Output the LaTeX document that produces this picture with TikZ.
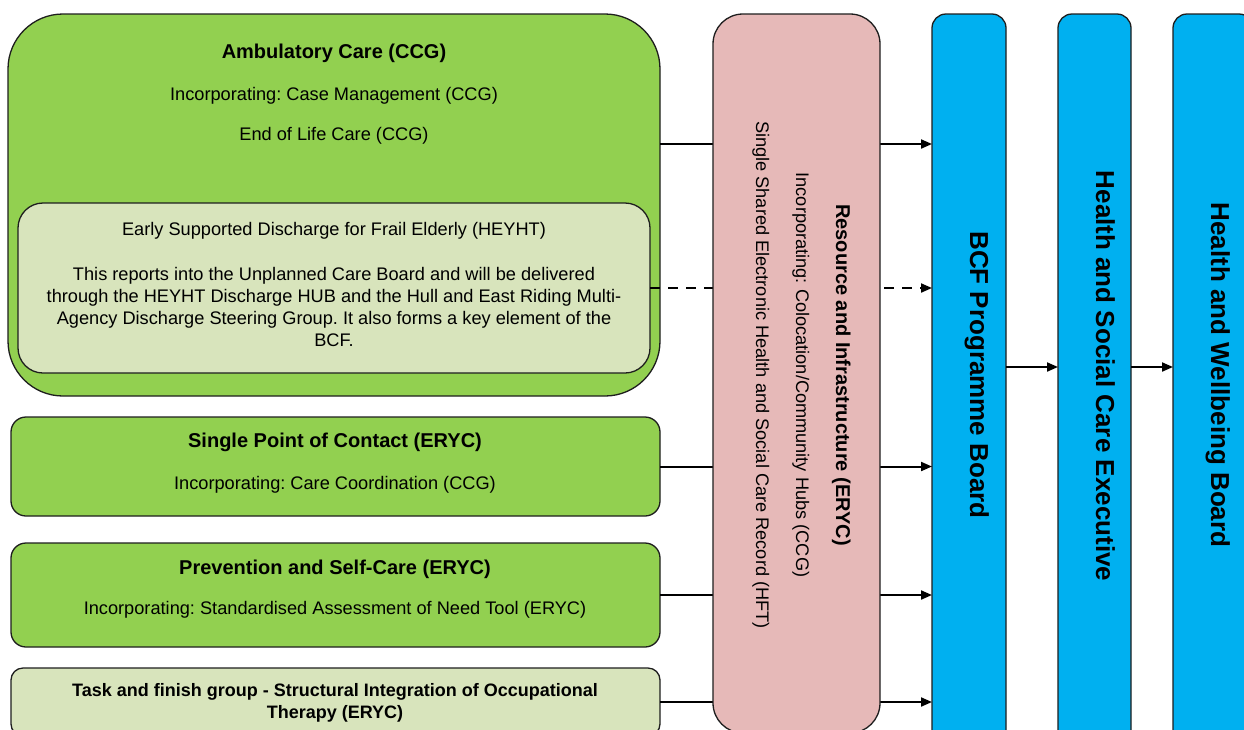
\documentclass[tikz,border=0pt]{standalone}
\usepackage{fontspec}
\setmainfont{Liberation Sans}
\frenchspacing
\usetikzlibrary{arrows.meta}
\definecolor{cgreen}{HTML}{92D050}
\definecolor{clight}{HTML}{D8E4BC}
\definecolor{cpink}{HTML}{E6B9B8}
\definecolor{cblue}{HTML}{00B0F0}
\definecolor{edge}{HTML}{1E1E1E}
\begin{document}
\begin{tikzpicture}[x=1pt,y=-1pt,
  box/.style={draw=edge, line width=1.3pt, inner sep=0pt, outer sep=0pt, anchor=north west},
  greenbox/.style={box, fill=cgreen},
  lightbox/.style={box, fill=clight},
  pinkbox/.style={box, fill=cpink},
  bluebox/.style={box, fill=cblue, rounded corners=14pt},
  body/.style={inner sep=0pt, anchor=base, font=\fontsize{18.2}{22}\selectfont},
  head/.style={inner sep=0pt, anchor=base, font=\fontsize{20}{24}\selectfont\bfseries},
  vbody/.style={body, rotate=-90},
  vhead/.style={head, rotate=-90},
  bighead/.style={inner sep=0pt, anchor=base, rotate=-90, font=\fontsize{26}{30}\selectfont\bfseries},
  conn/.style={draw=black, line width=2pt},
  arr/.style={conn, -{Triangle[length=11pt,width=9pt]}},
  dasharr/.style={arr, dash pattern=on 10pt off 8pt}
]
\useasboundingbox (0,0) rectangle (1244,729);
\clip (0,0) rectangle (1244,729);
\fill[white] (0,0) rectangle (1244,729);

% work-stream boxes on the left
\node[greenbox, rounded corners=55pt, minimum width=652pt, minimum height=382pt] (amb) at (8,14) {};
\node[lightbox, rounded corners=25pt, minimum width=632pt, minimum height=170pt] (esd) at (18,203) {};
\node[greenbox, rounded corners=15pt, minimum width=649pt, minimum height=99pt] (spc) at (11,417) {};
\node[greenbox, rounded corners=15pt, minimum width=649pt, minimum height=104pt] (prev) at (11,543) {};
\node[lightbox, rounded corners=12pt, minimum width=649pt, minimum height=68pt] (task) at (11,668) {};

% governance boards on the right
\node[bluebox, minimum width=74pt, minimum height=740pt] (bcf) at (932,14) {};
\node[bluebox, minimum width=73pt, minimum height=740pt] (hsce) at (1058,14) {};
\node[bluebox, minimum width=80pt, minimum height=740pt] (hwb) at (1173,14) {};

% reporting lines
\coordinate (lvlA) at (0,144);
\draw[arr] (amb.east |- lvlA) -- (bcf.west |- lvlA);
\draw[dasharr] (esd.east) -- (bcf.west |- esd.east);
\draw[arr] (spc.east) -- (bcf.west |- spc.east);
\draw[arr] (prev.east) -- (bcf.west |- prev.east);
\draw[arr] (task.east) -- (bcf.west |- task.east);
\coordinate (lvlB) at (0,367);
\draw[arr] (bcf.east |- lvlB) -- (hsce.west |- lvlB);
\draw[arr] (hsce.east |- lvlB) -- (hwb.west |- lvlB);

% shared infrastructure box across the reporting lines
\node[pinkbox, rounded corners=30pt, minimum width=167pt, minimum height=719pt] (res) at (713,14) {};

% texts
\node[head] (ambT) at (334,58) {Ambulatory Care (CCG)};
\node[body] (ambA) at (334,100) {Incorporating: Case Management (CCG)};
\node[body] (ambB) at (334,140) {End of Life Care (CCG)};
\node[body] (esdT) at (334,235) {Early Supported Discharge for Frail Elderly (HEYHT)};
\node[body] (esdA) at (334,280) {This reports into the Unplanned Care Board and will be delivered};
\node[body] (esdB) at (334,302) {through the HEYHT Discharge HUB and the Hull and East Riding Multi-};
\node[body] (esdC) at (334,324) {Agency Discharge Steering Group. It also forms a key element of the};
\node[body] (esdD) at (334,346) {BCF.};
\node[head] (spcT) at (335,447) {Single Point of Contact (ERYC)};
\node[body] (spcA) at (335,489) {Incorporating: Care Coordination (CCG)};
\node[head] (prevT) at (335,574) {Prevention and Self-Care (ERYC)};
\node[body] (prevA) at (335,614) {Incorporating: Standardised Assessment of Need Tool (ERYC)};
\node[body, font=\fontsize{18}{22}\selectfont\bfseries] (taskA) at (335,696) {Task and finish group - Structural Integration of Occupational};
\node[body, font=\fontsize{18}{22}\selectfont\bfseries] (taskB) at (335,718) {Therapy (ERYC)};

\node[vhead] (resT) at (836,375) {Resource and Infrastructure (ERYC)};
\node[vbody] (resA) at (796,375) {Incorporating: Colocation/Community Hubs (CCG)};
\node[vbody] (resB) at (756,375) {Single Shared Electronic Health and Social Care Record (HFT)};

\node[bighead] (bcfT) at (970,375) {BCF Programme Board};
\node[bighead] (hsceT) at (1096,376) {Health and Social Care Executive};
\node[bighead] (hwbT) at (1211,375) {Health and Wellbeing Board};
\end{tikzpicture}
\end{document}
